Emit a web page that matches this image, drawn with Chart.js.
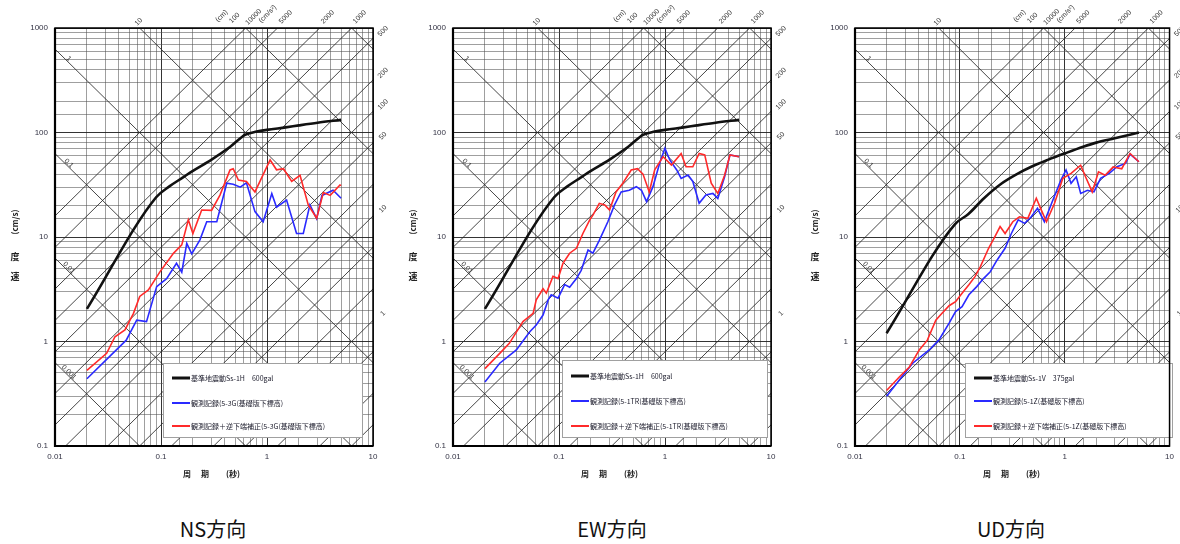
<!DOCTYPE html>
<html><head><meta charset="utf-8">
<script src="https://cdn.jsdelivr.net/npm/chart.js@4.4.1/dist/chart.umd.min.js"></script>
<style>
html,body{margin:0;padding:0;background:#fff;}
body{width:1180px;height:544px;position:relative;overflow:hidden;}
canvas{position:absolute;top:0;}
.ttl{position:absolute;top:515px;width:200px;text-align:center;font:20px "Noto Sans CJK JP";color:#111;line-height:28px}
</style></head><body>
<canvas id="c1" width="400" height="500" style="left:0px"></canvas>
<canvas id="c2" width="400" height="500" style="left:398px"></canvas>
<canvas id="c3" width="380" height="500" style="left:800px"></canvas>
<div class="ttl" style="left:113px">NS方向</div>
<div class="ttl" style="left:512px">EW方向</div>
<div class="ttl" style="left:911px">UD方向</div>
<script>
// ---- data (period T [s], velocity V [cm/s]) ----
const ssH_T = [0.02, 0.09, 0.12, 0.16, 0.2, 0.3, 0.45, 0.62, 0.8, 1.0, 1.5, 2.0, 3.0, 5.0];
const ssH_V = [2.05, 24, 30.5, 37, 43, 55, 73, 95, 102, 106, 112, 117, 124, 132];
const ssV_T = [0.02, 0.09, 0.12, 0.17, 0.25, 0.35, 0.48, 0.7, 1.0, 1.5, 2.0, 3.0, 5.1];
const ssV_V = [1.2, 13.3, 16.5, 23.5, 32.5, 40, 47, 55, 63, 73, 80, 88, 100];

const nsRed_T = [0.02, 0.0307, 0.0368, 0.0457, 0.055, 0.063, 0.076, 0.098, 0.131, 0.157, 0.181, 0.2, 0.242, 0.30, 0.36, 0.448, 0.48, 0.537, 0.64, 0.77, 1.07, 1.23, 1.43, 1.71, 2.05, 2.45, 2.94, 3.4, 3.95, 4.88, 5.0];
const nsRed_V = [0.53, 0.77, 1.11, 1.29, 1.86, 2.7, 3.11, 4.66, 6.98, 8.4, 14.6, 10.8, 18.1, 18, 25.2, 43.8, 45, 35, 34, 27, 54.6, 44, 45, 34, 39, 20.3, 15.1, 26.6, 25, 31.5, 31];
const nsBlue_T = [0.02, 0.047, 0.059, 0.073, 0.091, 0.113, 0.14, 0.157, 0.175, 0.195, 0.233, 0.27, 0.336, 0.417, 0.48, 0.56, 0.64, 0.77, 0.92, 1.11, 1.23, 1.53, 1.9, 2.2, 2.54, 2.94, 3.3, 4.2, 5.0];
const nsBlue_V = [0.44, 1.03, 1.6, 1.55, 3.35, 4.0, 5.6, 4.6, 8.7, 6.9, 9.4, 14, 14, 32.7, 32, 30, 33, 17.5, 14, 26, 19.3, 22.6, 10.8, 10.8, 20.3, 15, 25, 28, 23.5];

const ewRed_T = [0.02, 0.0276, 0.034, 0.0457, 0.057, 0.061, 0.0707, 0.076, 0.0877, 0.098, 0.109, 0.126, 0.146, 0.168, 0.195, 0.209, 0.24, 0.27, 0.30, 0.345, 0.40, 0.48, 0.55, 0.62, 0.71, 0.80, 0.96, 1.15, 1.42, 1.58, 1.83, 2.1, 2.37, 2.73, 3.15, 3.65, 4.1, 5.0];
const ewRed_V = [0.55, 0.77, 0.96, 1.55, 1.86, 2.5, 3.2, 2.9, 4.2, 4.0, 5.6, 7.0, 7.8, 10.8, 14.6, 16.2, 21, 20.3, 18.1, 27, 32.7, 43.8, 45, 40, 27, 44, 58.7, 48.9, 63, 47, 47, 63, 61, 32.7, 26.1, 39, 61, 58.7];
const ewBlue_T = [0.02, 0.0276, 0.0396, 0.053, 0.061, 0.0707, 0.079, 0.0845, 0.098, 0.113, 0.126, 0.146, 0.162, 0.188, 0.209, 0.24, 0.289, 0.334, 0.386, 0.46, 0.537, 0.6, 0.67, 0.77, 0.89, 0.998, 1.11, 1.29, 1.42, 1.65, 1.83, 2.1, 2.43, 2.83, 3.15, 3.65, 4.1, 5.0];
const ewBlue_V = [0.41, 0.62, 0.83, 1.24, 1.44, 1.79, 2.5, 2.8, 2.6, 3.5, 3.3, 4.0, 4.8, 7.5, 7.0, 9.3, 14.0, 20.3, 27, 28, 30.3, 28, 21.8, 30.3, 50.7, 70.6, 54.6, 43.8, 36.3, 39.2, 34, 21, 25.2, 26.1, 23.4, 37.7, 61, 58.7];

const udRed_T = [0.02, 0.0266, 0.033, 0.041, 0.049, 0.059, 0.0656, 0.079, 0.091, 0.105, 0.122, 0.14, 0.157, 0.188, 0.216, 0.242, 0.27, 0.32, 0.37, 0.445, 0.536, 0.6, 0.67, 0.8, 0.96, 1.15, 1.42, 1.58, 1.83, 2.1, 2.43, 2.9, 3.5, 4.2, 5.1];
const udRed_V = [0.34, 0.46, 0.57, 0.83, 1.03, 1.6, 1.8, 2.2, 2.4, 2.9, 3.5, 4.2, 5.2, 7.8, 10.1, 12.6, 10.8, 14, 15.6, 15.1, 23.5, 18, 14, 21, 36.4, 40.6, 48.6, 37.7, 27, 42, 39, 46.9, 45, 63, 52.5];
const udBlue_T = [0.02, 0.0266, 0.0355, 0.051, 0.063, 0.079, 0.091, 0.105, 0.122, 0.145, 0.168, 0.195, 0.226, 0.27, 0.31, 0.36, 0.415, 0.48, 0.55, 0.64, 0.77, 0.92, 1.03, 1.15, 1.29, 1.42, 1.65, 1.9, 2.2, 2.66, 3.15, 3.8, 4.2, 5.1];
const udBlue_V = [0.30, 0.43, 0.62, 0.83, 1.03, 1.5, 1.93, 2.15, 2.8, 3.35, 4.0, 4.65, 6.0, 7.8, 10.8, 14.6, 13.5, 15.6, 18.8, 14, 22.5, 35, 43.8, 32.6, 37.7, 26.1, 28, 27, 36.4, 40.6, 47, 50.6, 62, 52.5];

// tripartite guide lines: displacement (cm) and acceleration (cm/s2)
const dispLines = [0.001, 0.01, 0.1, 1, 10, 100, 1000];
const accLines = [0.1, 0.2, 0.5, 1, 2, 5, 10, 20, 50, 100, 200, 500, 1000, 2000, 5000, 10000];
const dispLeftLabels = [[1, '1'], [0.1, '0.1'], [0.01, '0.01'], [0.001, '0.001']];
const accTopLabels = [[10000, '10000'], [5000, '5000'], [2000, '2000'], [1000, '1000']];
const accRightLabels = [[500, '500'], [200, '200'], [100, '100'], [50, '50'], [10, '10'], [1, '1']];
const xTickLabels = {'-2': '0.01', '-1': '0.1', '0': '1', '1': '10'};
const yTickLabels = {'-1': '0.1', '0': '1', '1': '10', '2': '100', '3': '1000'};

const legendNS = ['基準地震動Ss-1H　600gal', '観測記録(5-3G(基礎版下標高)', '観測記録＋逆下端補正(5-3G(基礎版下標高)'];
const legendEW = ['基準地震動Ss-1H　600gal', '観測記録(5-1TR(基礎版下標高)', '観測記録＋逆下端補正(5-1TR(基礎版下標高)'];
const legendUD = ['基準地震動Ss-1V　375gal', '観測記録(5-1Z(基礎版下標高)', '観測記録＋逆下端補正(5-1Z(基礎版下標高)'];

const pts = (T, V) => T.map((t, i) => ({x: t, y: V[i]}));
const isPow10 = v => Math.abs(Math.log10(v) - Math.round(Math.log10(v))) < 1e-6;
const TP = 2 * Math.PI;

function rtext(ctx, s, px, py, ang, align) {
  ctx.save(); ctx.translate(px, py); ctx.rotate(ang);
  ctx.textAlign = align || 'center'; ctx.textBaseline = 'middle';
  ctx.fillText(s, 0, 0); ctx.restore();
}

const tripartite = {
  id: 'tripartite',
  beforeDatasetsDraw(chart) {
    const {ctx, chartArea: a, scales: {x, y}} = chart;
    ctx.save();
    ctx.beginPath(); ctx.rect(a.left, a.top, a.right - a.left, a.bottom - a.top); ctx.clip();
    ctx.strokeStyle = 'rgba(40,40,40,0.85)'; ctx.lineWidth = 1;
    const T0 = 0.005, T1 = 20;
    dispLines.forEach(D => {
      ctx.beginPath();
      ctx.moveTo(x.getPixelForValue(T0), y.getPixelForValue(TP * D / T0));
      ctx.lineTo(x.getPixelForValue(T1), y.getPixelForValue(TP * D / T1));
      ctx.stroke();
    });
    accLines.forEach(A => {
      ctx.beginPath();
      ctx.moveTo(x.getPixelForValue(T0), y.getPixelForValue(A * T0 / TP));
      ctx.lineTo(x.getPixelForValue(T1), y.getPixelForValue(A * T1 / TP));
      ctx.stroke();
    });
    ctx.restore();
  },
  afterDatasetsDraw(chart) {
    const {ctx, chartArea: a} = chart;
    const lg = chart.options.plugins.tripartite;
    const b = lg.box;
    const L = a.left + b[0], R = a.left + b[1], Tp = b[2], Bt = b[3];
    ctx.save();
    ctx.fillStyle = '#fff'; ctx.fillRect(L, Tp, R - L, Bt - Tp);
    ctx.strokeStyle = '#a0a0a0'; ctx.lineWidth = 1; ctx.strokeRect(L + 0.5, Tp + 0.5, R - L, Bt - Tp);
    const rows = lg.rows;
    ctx.font = '7px "Noto Sans CJK JP"'; ctx.textBaseline = 'middle'; ctx.textAlign = 'left';
    chart.data.datasets.forEach((ds, i) => {
      const yy = rows[i];
      ctx.strokeStyle = ds.borderColor; ctx.lineWidth = i === 0 ? 3 : 2;
      ctx.beginPath(); ctx.moveTo(L + 9, yy); ctx.lineTo(L + 27, yy); ctx.stroke();
      ctx.fillStyle = '#1a1a2a'; ctx.fillText(ds.label, L + 28, yy);
    });
    ctx.restore();
  },
  afterDraw(chart) {
    const {ctx, chartArea: a, scales: {x, y}} = chart;
    ctx.save();
    ctx.strokeStyle = '#000';
    ctx.lineWidth = 1.5;
    ctx.strokeRect(a.left, a.top, a.right - a.left, a.bottom - a.top);
    ctx.lineWidth = 2.2;
    ctx.beginPath(); ctx.moveTo(a.left, a.top); ctx.lineTo(a.left, a.bottom); ctx.lineTo(a.right, a.bottom); ctx.stroke();
    ctx.fillStyle = '#333';
    ctx.font = '7px "Liberation Sans"';
    dispLeftLabels.forEach(([D, s]) => {
      const T = 0.0135;
      rtext(ctx, s, x.getPixelForValue(T), y.getPixelForValue(TP * D / T) - 4, Math.PI / 4);
    });
    rtext(ctx, '10', x.getPixelForValue(TP * 10 / 1000) - 1, a.top - 6, -Math.PI / 4);
    const e100 = x.getPixelForValue(TP * 100 / 1000);
    rtext(ctx, '(cm)', e100 - 24, a.top - 12, -Math.PI / 4);
    rtext(ctx, '100', e100 - 11, a.top - 10, -Math.PI / 4);
    rtext(ctx, '(cm/s²)', e100 + 22, a.top - 14, -Math.PI / 4);
    accTopLabels.forEach(([A, s]) => {
      rtext(ctx, s, x.getPixelForValue(TP * 1000 / A) + 8, a.top - 11, -Math.PI / 4);
    });
    accRightLabels.forEach(([A, s]) => {
      rtext(ctx, s, a.right + 10, y.getPixelForValue(A * 10 / TP) - 7, -Math.PI / 4);
    });
    ctx.fillStyle = '#222';
    ctx.font = 'bold 9px "Noto Sans CJK JP"';
    ctx.textAlign = 'center'; ctx.textBaseline = 'middle';
    const yx = a.left - 40;
    ctx.fillText('速', yx, 277);
    ctx.fillText('度', yx, 257);
    ctx.font = 'bold 8px "Noto Sans CJK JP"';
    rtext(ctx, '(cm/s)', yx, 222, -Math.PI / 2);
    ctx.fillText('周', a.left + 132, 474);
    ctx.fillText('期', a.left + 150, 474);
    ctx.fillText('(秒)', a.left + 178, 474);
    ctx.restore();
  }
};

function gridColor(c) {
  const v = c.tick ? c.tick.value : 1;
  return isPow10(v) ? 'rgba(30,30,30,0.9)' : 'rgba(80,80,80,0.55)';
}

function makePanel(id, padRight, blackT, blackV, blueT, blueV, redT, redV, labels, box, rows) {
  new Chart(document.getElementById(id), {
    type: 'line',
    data: {
      datasets: [
        {label: labels[0], data: pts(blackT, blackV), borderColor: '#111', borderWidth: 2.6, order: 3, cubicInterpolationMode: 'monotone'},
        {label: labels[1], data: pts(blueT, blueV), borderColor: '#2a2aff', borderWidth: 1.6, order: 2},
        {label: labels[2], data: pts(redT, redV), borderColor: '#ff2a2a', borderWidth: 1.6, order: 1}
      ]
    },
    options: {
      responsive: false, animation: false, devicePixelRatio: 1,
      layout: {padding: {top: 28, right: padRight, left: 0, bottom: 0}},
      elements: {point: {radius: 0}, line: {tension: 0}},
      plugins: {legend: {display: false}, tooltip: {enabled: false}, tripartite: {box: box, rows: rows}},
      scales: {
        x: {
          type: 'logarithmic', min: 0.01, max: 10,
          border: {display: false},
          grid: {color: gridColor, lineWidth: 1, drawTicks: false},
          ticks: {autoSkip: false, maxRotation: 0, padding: 6, color: '#334',
            font: {size: 8, family: 'Liberation Sans'},
            callback: v => isPow10(v) ? xTickLabels[String(Math.round(Math.log10(v)))] : ''},
          afterFit: s => { s.height = 54; }
        },
        y: {
          type: 'logarithmic', min: 0.1, max: 1000,
          border: {display: false},
          grid: {color: gridColor, lineWidth: 1, drawTicks: false},
          ticks: {autoSkip: false, padding: 7, color: '#334',
            font: {size: 8, family: 'Liberation Sans'},
            callback: v => isPow10(v) ? yTickLabels[String(Math.round(Math.log10(v)))] : ''},
          afterFit: s => { s.width = 55; }
        }
      }
    },
    plugins: [tripartite]
  });
}

makePanel('c1', 27, ssH_T, ssH_V, nsBlue_T, nsBlue_V, nsRed_T, nsRed_V, legendNS, [108, 307, 363, 437], [378, 403, 426]);
makePanel('c2', 27, ssH_T, ssH_V, ewBlue_T, ewBlue_V, ewRed_T, ewRed_V, legendEW, [109, 314, 360, 437], [376, 401, 426]);
makePanel('c3', 7, ssV_T, ssV_V, udBlue_T, udBlue_V, udRed_T, udRed_V, legendUD, [110, 317, 363, 437], [378, 401, 426]);
</script>
</body></html>
